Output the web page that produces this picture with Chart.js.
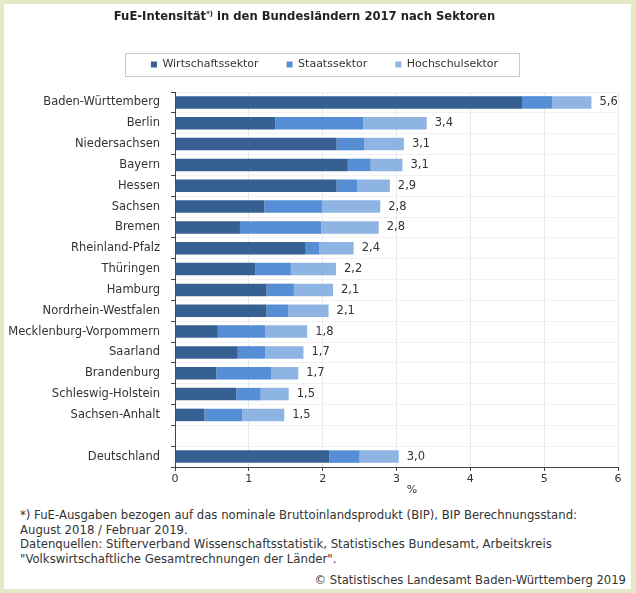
<!DOCTYPE html>
<html lang="de">
<head>
<meta charset="utf-8">
<title>FuE-Intensität in den Bundesländern 2017</title>
<script src="https://cdn.jsdelivr.net/npm/chart.js@4.4.0/dist/chart.umd.min.js"></script>
<style>
  html, body { margin: 0; padding: 0; background: #fff; }
  #page { position: relative; width: 636px; height: 593px; overflow: hidden;
          font-family: "DejaVu Sans", Verdana, sans-serif; color: #333; }
  #frame { position: absolute; left: 0; top: 0; width: 636px; height: 593px; box-sizing: border-box;
           border: 4px solid #e6e9c8; border-right-width: 5px; pointer-events: none; }
  #title { position: absolute; top: 9px; left: 0; width: 609px; text-align: center;
           font-weight: bold; font-size: 11.6px; color: #222; }
  #title sup { font-size: 7px; vertical-align: 4px; }
  #chartBox { position: absolute; left: 0; top: 0; width: 636px; height: 500px; }
  #notes { position: absolute; left: 20px; top: 508px; font-size: 11.7px; line-height: 14.5px; }
  #copy { position: absolute; right: 10px; top: 573px; font-size: 11.6px; }
</style>
</head>
<body>
<div id="page">
  <div id="chartBox"><canvas id="fueChart"></canvas></div>
  <div id="title">FuE-Intensität<sup>*)</sup> in den Bundesländern 2017 nach Sektoren</div>
  <div id="notes">
    *) FuE-Ausgaben bezogen auf das nominale Bruttoinlandsprodukt (BIP), BIP Berechnungsstand:<br>
    August 2018 / Februar 2019.<br>
    Datenquellen: Stifterverband Wissenschaftsstatistik, Statistisches Bundesamt, Arbeitskreis<br>
    "Volkswirtschaftliche Gesamtrechnungen der Länder".
  </div>
  <div id="copy">© Statistisches Landesamt Baden-Württemberg 2019</div>
  <div id="frame"></div>
</div>
<script>
const categories = ['Baden-Württemberg', 'Berlin', 'Niedersachsen', 'Bayern', 'Hessen', 'Sachsen',
    'Bremen', 'Rheinland-Pfalz', 'Thüringen', 'Hamburg', 'Nordrhein-Westfalen',
    'Mecklenburg-Vorpommern', 'Saarland', 'Brandenburg', 'Schleswig-Holstein', 'Sachsen-Anhalt',
    '', 'Deutschland'];
const wirtschaft = [4.70, 1.36, 2.19, 2.34, 2.19, 1.21, 0.88, 1.77, 1.09, 1.24, 1.24, 0.58, 0.85, 0.56, 0.83, 0.40, null, 2.09];
const staat      = [0.41, 1.19, 0.37, 0.31, 0.28, 0.78, 1.10, 0.18, 0.48, 0.37, 0.29, 0.64, 0.37, 0.74, 0.33, 0.51, null, 0.41];
const hochschule = [0.53, 0.86, 0.54, 0.43, 0.44, 0.79, 0.78, 0.47, 0.61, 0.53, 0.55, 0.57, 0.52, 0.37, 0.38, 0.57, null, 0.53];
const totals     = [5.6, 3.4, 3.1, 3.1, 2.9, 2.8, 2.8, 2.4, 2.2, 2.1, 2.1, 1.8, 1.7, 1.7, 1.5, 1.5, null, 3.0];
const xTicks = [0, 1, 2, 3, 4, 5, 6];
const unitLabel = '%';

const FONT = '"DejaVu Sans", Verdana, sans-serif';
const LABEL_SIZE = 11.5;
const LABEL_MAX_W = 153;

// pushes the plot area down below the legend
const legendSpacing = {
    id: 'legendSpacing',
    beforeInit(chart) {
        if (!chart.legend) return;
        const fit = chart.legend.fit;
        chart.legend.fit = function () {
            fit.call(this);
            this.height += 12;
        };
    }
};

// state names (long ones squeezed to fit), totals after the bars, unit, legend frame
const extras = {
    id: 'extras',
    afterDatasetsDraw(chart) {
        const {ctx, scales: {x, y}} = chart;
        ctx.save();
        ctx.fillStyle = '#333';
        ctx.textBaseline = 'middle';

        ctx.textAlign = 'right';
        categories.forEach((c, i) => {
            if (!c) return;
            ctx.font = LABEL_SIZE + 'px ' + FONT;
            const w = ctx.measureText(c).width;
            if (w > LABEL_MAX_W) {
                ctx.font = (LABEL_SIZE * LABEL_MAX_W / w).toFixed(2) + 'px ' + FONT;
            }
            ctx.fillText(c, y.right - 15, y.getPixelForValue(i));
        });

        ctx.textAlign = 'left';
        ctx.font = '11.5px ' + FONT;
        categories.forEach((c, i) => {
            if (totals[i] == null) return;
            const end = wirtschaft[i] + staat[i] + hochschule[i];
            ctx.fillText(totals[i].toFixed(1).replace('.', ','), x.getPixelForValue(end) + 8, y.getPixelForValue(i));
        });

        ctx.font = '11px ' + FONT;
        ctx.textAlign = 'center';
        ctx.fillText(unitLabel, x.getPixelForValue(3.21), x.top + 23);
        ctx.restore();
    },
    afterDraw(chart) {
        const hb = chart.legend && chart.legend.legendHitBoxes;
        if (!hb || !hb.length) return;
        const first = hb[0], last = hb[hb.length - 1];
        const ctx = chart.ctx;
        ctx.save();
        ctx.strokeStyle = '#c9c9c9';
        ctx.lineWidth = 1;
        const left = Math.round(first.left - 26) + 0.5;
        const right = Math.round(last.left + last.width + 21) + 0.5;
        const top = Math.round(first.top - 6) + 0.5;
        const bottom = Math.round(first.top + first.height + 6) + 0.5;
        ctx.strokeRect(left, top, right - left, bottom - top);
        ctx.restore();
    }
};

new Chart(document.getElementById('fueChart'), {
    type: 'bar',
    data: {
        labels: categories,
        datasets: [
            { label: 'Wirtschaftssektor', data: wirtschaft, backgroundColor: '#376092' },
            { label: 'Staatssektor', data: staat, backgroundColor: '#558ed5' },
            { label: 'Hochschulsektor', data: hochschule, backgroundColor: '#8eb4e3' }
        ]
    },
    options: {
        indexAxis: 'y',
        responsive: true,
        maintainAspectRatio: false,
        animation: false,
        barPercentage: 0.6,
        categoryPercentage: 1,
        layout: { padding: { left: 31, right: 18, top: 31, bottom: 0 } },
        plugins: {
            title: { display: false },
            tooltip: { enabled: false },
            legend: {
                position: 'top',
                labels: {
                    boxWidth: 6,
                    boxHeight: 6,
                    padding: 28,
                    color: '#333',
                    font: { family: FONT, size: 11 }
                }
            }
        },
        scales: {
            x: {
                stacked: true,
                min: 0,
                max: 6,
                afterBuildTicks(scale) {
                    scale.ticks = xTicks.map(v => ({ value: v }));
                },
                afterFit(scale) { scale.height = 33; },
                grid: { color: '#e9e9e9', tickColor: '#444', tickLength: 4 },
                border: { color: '#444' },
                ticks: { color: '#333', padding: 2, font: { family: FONT, size: 11 } }
            },
            y: {
                stacked: true,
                afterFit(scale) { scale.width = 144; },
                grid: { color: '#f1f1f1', tickColor: '#444', tickLength: 4, offset: true },
                border: { color: '#444' },
                ticks: { display: false }
            }
        }
    },
    plugins: [legendSpacing, extras]
});
</script>
</body>
</html>
